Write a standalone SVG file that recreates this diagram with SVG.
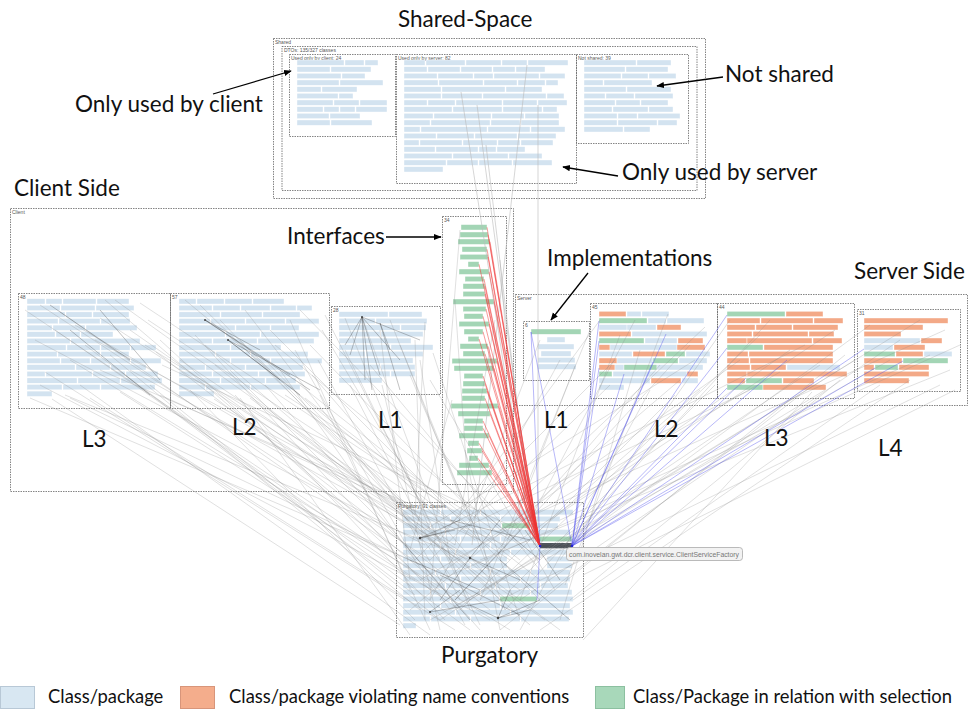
<svg xmlns="http://www.w3.org/2000/svg" width="968" height="711" viewBox="0 0 968 711">
<defs>
<style>
.box{fill:none;stroke:#666;stroke-width:0.8;stroke-dasharray:1.5 1}
.b{fill:#d3e3f0;stroke:#fff;stroke-width:0.4}
.o{fill:#f3a987;stroke:#fff;stroke-width:0.4}
.g{fill:#a3d5b5;stroke:#fff;stroke-width:0.4}
.sel{fill:#4e555c}
.sm{font-family:"Liberation Sans",Arial,sans-serif;font-size:5px;fill:#555}
.big{font-family:Lato,"Noto Sans",sans-serif;font-size:22.5px;fill:#111}
.leg{font-family:Lato,"Noto Sans",sans-serif;font-size:18.4px;fill:#111}
.gl{stroke:#8a8a8a;stroke-width:0.6;stroke-opacity:0.45;fill:none}
.dl{stroke:#333;stroke-width:0.6;stroke-opacity:0.5;fill:none}
.rl{stroke:#e33;stroke-width:0.7;stroke-opacity:0.7;fill:none}
.bl{stroke:#55e;stroke-width:0.7;stroke-opacity:0.6;fill:none}
.ll{stroke:#bbb;stroke-width:0.6;fill:none}
.ann{stroke:#000;stroke-width:1.3;fill:none;marker-end:url(#ah)}
.dot{fill:#444}
</style>
<marker id="ah" viewBox="0 0 10 10" refX="9" refY="5" markerWidth="6" markerHeight="6" orient="auto">
<path d="M0,1 L10,5 L0,9 z" fill="#000"/>
</marker>
</defs>
<rect width="968" height="711" fill="#fff"/>

<!-- Shared space -->
<g id="shared">
<rect class="box" x="273.5" y="38.5" width="432" height="160"/>
<text class="sm" x="275" y="43.5">Shared</text>
<rect class="box" x="282" y="46.5" width="415" height="144"/>
<text class="sm" x="284" y="51.5">DTOs: 135/327 classes</text>
</g>
<g id="shared-client">
<rect class="box" x="289.5" y="54.5" width="106" height="82"/>
<text class="sm" x="291" y="59.5">Used only by client: 24</text>
<rect class="b" x="297" y="60" width="47" height="5.3"/><rect class="b" x="345" y="60" width="19" height="5.3"/><rect class="b" x="365" y="60" width="13" height="5.3"/>
<rect class="b" x="297" y="66.7" width="33" height="5.3"/><rect class="b" x="331" y="66.7" width="40" height="5.3"/>
<rect class="b" x="297" y="73.3" width="44" height="5.3"/><rect class="b" x="342" y="73.3" width="23" height="5.3"/>
<rect class="b" x="297" y="80" width="42" height="5.3"/><rect class="b" x="340" y="80" width="43" height="5.3"/>
<rect class="b" x="297" y="86.7" width="24" height="5.3"/><rect class="b" x="322" y="86.7" width="35" height="5.3"/>
<rect class="b" x="297" y="93.3" width="41" height="5.3"/><rect class="b" x="339" y="93.3" width="14" height="5.3"/>
<rect class="b" x="297" y="100" width="36" height="5.3"/><rect class="b" x="334" y="100" width="25" height="5.3"/><rect class="b" x="360" y="100" width="27" height="5.3"/>
<rect class="b" x="297" y="106.7" width="26" height="5.3"/><rect class="b" x="324" y="106.7" width="15" height="5.3"/><rect class="b" x="340" y="106.7" width="15" height="5.3"/><rect class="b" x="356" y="106.7" width="31" height="5.3"/>
<rect class="b" x="297" y="113.3" width="32" height="5.3"/><rect class="b" x="330" y="113.3" width="30" height="5.3"/>
<rect class="b" x="297" y="120" width="33" height="5.3"/><rect class="b" x="331" y="120" width="41" height="5.3"/>
</g>
<g id="shared-server">
<rect class="box" x="396.5" y="54.5" width="180" height="129"/>
<text class="sm" x="398" y="59.5">Used only by server: 82</text>
<rect class="b" x="404" y="60" width="21" height="5.3"/><rect class="b" x="426" y="60" width="39" height="5.3"/><rect class="b" x="466" y="60" width="35" height="5.3"/><rect class="b" x="502" y="60" width="25" height="5.3"/><rect class="b" x="528" y="60" width="40" height="5.3"/>
<rect class="b" x="404" y="66.7" width="23" height="5.3"/><rect class="b" x="428" y="66.7" width="32" height="5.3"/><rect class="b" x="461" y="66.7" width="31" height="5.3"/><rect class="b" x="493" y="66.7" width="22" height="5.3"/><rect class="b" x="516" y="66.7" width="29" height="5.3"/>
<rect class="b" x="404" y="73.3" width="33" height="5.3"/><rect class="b" x="438" y="73.3" width="35" height="5.3"/><rect class="b" x="474" y="73.3" width="19" height="5.3"/><rect class="b" x="494" y="73.3" width="45" height="5.3"/><rect class="b" x="540" y="73.3" width="25" height="5.3"/>
<rect class="b" x="404" y="80" width="34" height="5.3"/><rect class="b" x="439" y="80" width="44" height="5.3"/><rect class="b" x="484" y="80" width="33" height="5.3"/><rect class="b" x="518" y="80" width="27" height="5.3"/><rect class="b" x="546" y="80" width="12" height="5.3"/>
<rect class="b" x="404" y="86.7" width="37" height="5.3"/><rect class="b" x="442" y="86.7" width="63" height="5.3"/><rect class="b" x="506" y="86.7" width="36" height="5.3"/>
<rect class="b" x="404" y="93.3" width="37" height="5.3"/><rect class="b" x="442" y="93.3" width="40" height="5.3"/><rect class="b" x="483" y="93.3" width="63" height="5.3"/><rect class="b" x="547" y="93.3" width="17" height="5.3"/>
<rect class="b" x="404" y="100" width="23" height="5.3"/><rect class="b" x="428" y="100" width="27" height="5.3"/><rect class="b" x="456" y="100" width="46" height="5.3"/><rect class="b" x="503" y="100" width="34" height="5.3"/><rect class="b" x="538" y="100" width="29" height="5.3"/>
<rect class="b" x="404" y="106.7" width="48" height="5.3"/><rect class="b" x="453" y="106.7" width="49" height="5.3"/><rect class="b" x="503" y="106.7" width="39" height="5.3"/><rect class="b" x="543" y="106.7" width="14" height="5.3"/>
<rect class="b" x="404" y="113.3" width="29" height="5.3"/><rect class="b" x="434" y="113.3" width="57" height="5.3"/><rect class="b" x="492" y="113.3" width="32" height="5.3"/><rect class="b" x="525" y="113.3" width="34" height="5.3"/>
<rect class="b" x="404" y="120" width="26" height="5.3"/><rect class="b" x="431" y="120" width="59" height="5.3"/><rect class="b" x="491" y="120" width="29" height="5.3"/><rect class="b" x="521" y="120" width="38" height="5.3"/>
<rect class="b" x="404" y="126.7" width="16" height="5.3"/><rect class="b" x="421" y="126.7" width="66" height="5.3"/><rect class="b" x="488" y="126.7" width="42" height="5.3"/><rect class="b" x="531" y="126.7" width="34" height="5.3"/>
<rect class="b" x="404" y="133.3" width="32" height="5.3"/><rect class="b" x="437" y="133.3" width="37" height="5.3"/><rect class="b" x="475" y="133.3" width="42" height="5.3"/><rect class="b" x="518" y="133.3" width="38" height="5.3"/>
<rect class="b" x="404" y="140" width="15" height="5.3"/><rect class="b" x="420" y="140" width="42" height="5.3"/><rect class="b" x="463" y="140" width="34" height="5.3"/><rect class="b" x="498" y="140" width="22" height="5.3"/><rect class="b" x="521" y="140" width="32" height="5.3"/>
<rect class="b" x="404" y="146.7" width="31" height="5.3"/><rect class="b" x="436" y="146.7" width="42" height="5.3"/><rect class="b" x="479" y="146.7" width="17" height="5.3"/><rect class="b" x="497" y="146.7" width="28" height="5.3"/>
<rect class="b" x="404" y="153.3" width="48" height="5.3"/><rect class="b" x="453" y="153.3" width="55" height="5.3"/><rect class="b" x="509" y="153.3" width="33" height="5.3"/>
<rect class="b" x="404" y="160" width="42" height="5.3"/><rect class="b" x="447" y="160" width="31" height="5.3"/><rect class="b" x="479" y="160" width="33" height="5.3"/><rect class="b" x="513" y="160" width="39" height="5.3"/>
<rect class="b" x="404" y="166.7" width="39" height="5.3"/>
</g>
<g id="not-shared">
<rect class="box" x="576.5" y="54.5" width="112" height="89"/>
<text class="sm" x="578" y="59.5">Not shared: 39</text>
<rect class="b" x="584" y="60" width="52" height="5.3"/><rect class="b" x="637" y="60" width="34" height="5.3"/>
<rect class="b" x="584" y="66.7" width="41" height="5.3"/><rect class="b" x="626" y="66.7" width="42" height="5.3"/>
<rect class="b" x="584" y="73.3" width="37" height="5.3"/><rect class="b" x="622" y="73.3" width="26" height="5.3"/><rect class="b" x="649" y="73.3" width="27" height="5.3"/>
<rect class="b" x="584" y="80" width="19" height="5.3"/><rect class="b" x="604" y="80" width="48" height="5.3"/>
<rect class="b" x="584" y="86.7" width="42" height="5.3"/><rect class="b" x="627" y="86.7" width="44" height="5.3"/>
<rect class="b" x="584" y="93.3" width="21" height="5.3"/><rect class="b" x="606" y="93.3" width="28" height="5.3"/><rect class="b" x="635" y="93.3" width="38" height="5.3"/>
<rect class="b" x="584" y="100" width="31" height="5.3"/><rect class="b" x="616" y="100" width="24" height="5.3"/><rect class="b" x="641" y="100" width="27" height="5.3"/>
<rect class="b" x="584" y="106.7" width="28" height="5.3"/><rect class="b" x="613" y="106.7" width="35" height="5.3"/><rect class="b" x="649" y="106.7" width="24" height="5.3"/>
<rect class="b" x="584" y="113.3" width="33" height="5.3"/><rect class="b" x="618" y="113.3" width="19" height="5.3"/><rect class="b" x="638" y="113.3" width="42" height="5.3"/>
<rect class="b" x="584" y="120" width="33" height="5.3"/><rect class="b" x="618" y="120" width="39" height="5.3"/><rect class="b" x="658" y="120" width="19" height="5.3"/>
<rect class="b" x="584" y="126.7" width="39" height="5.3"/><rect class="b" x="624" y="126.7" width="26" height="5.3"/>
</g>

<!-- Client -->
<g id="client">
<rect class="box" x="10.5" y="208.5" width="503" height="283"/>
<text class="sm" x="12" y="214">Client</text>
</g>
<g id="client-l3">
<rect class="box" x="18.5" y="293.5" width="152" height="115"/>
<text class="sm" x="20" y="299">48</text>
<rect class="b" x="27" y="298.7" width="18" height="5.3"/><rect class="b" x="46" y="298.7" width="16" height="5.3"/><rect class="b" x="63" y="298.7" width="33" height="5.3"/><rect class="b" x="97" y="298.7" width="32" height="5.3"/>
<rect class="b" x="27" y="305.3" width="33" height="5.3"/><rect class="b" x="61" y="305.3" width="34" height="5.3"/><rect class="b" x="96" y="305.3" width="38" height="5.3"/>
<rect class="b" x="27" y="311.9" width="38" height="5.3"/><rect class="b" x="66" y="311.9" width="26" height="5.3"/><rect class="b" x="93" y="311.9" width="36" height="5.3"/>
<rect class="b" x="27" y="318.5" width="31" height="5.3"/><rect class="b" x="59" y="318.5" width="41" height="5.3"/><rect class="b" x="101" y="318.5" width="29" height="5.3"/>
<rect class="b" x="27" y="325.1" width="25" height="5.3"/><rect class="b" x="53" y="325.1" width="32" height="5.3"/><rect class="b" x="86" y="325.1" width="51" height="5.3"/>
<rect class="b" x="27" y="331.7" width="28" height="5.3"/><rect class="b" x="56" y="331.7" width="24" height="5.3"/><rect class="b" x="81" y="331.7" width="32" height="5.3"/>
<rect class="b" x="27" y="338.3" width="43" height="5.3"/><rect class="b" x="71" y="338.3" width="69" height="5.3"/>
<rect class="b" x="27" y="344.9" width="39" height="5.3"/><rect class="b" x="67" y="344.9" width="33" height="5.3"/><rect class="b" x="101" y="344.9" width="29" height="5.3"/><rect class="b" x="131" y="344.9" width="25" height="5.3"/>
<rect class="b" x="27" y="351.5" width="30" height="5.3"/><rect class="b" x="58" y="351.5" width="42" height="5.3"/><rect class="b" x="101" y="351.5" width="28" height="5.3"/>
<rect class="b" x="27" y="358.1" width="33" height="5.3"/><rect class="b" x="61" y="358.1" width="29" height="5.3"/><rect class="b" x="91" y="358.1" width="39" height="5.3"/><rect class="b" x="131" y="358.1" width="30" height="5.3"/>
<rect class="b" x="27" y="364.7" width="48" height="5.3"/><rect class="b" x="76" y="364.7" width="34" height="5.3"/><rect class="b" x="111" y="364.7" width="35" height="5.3"/>
<rect class="b" x="27" y="371.3" width="18" height="5.3"/><rect class="b" x="46" y="371.3" width="46" height="5.3"/><rect class="b" x="93" y="371.3" width="32" height="5.3"/><rect class="b" x="126" y="371.3" width="32" height="5.3"/>
<rect class="b" x="27" y="377.9" width="50" height="5.3"/><rect class="b" x="78" y="377.9" width="42" height="5.3"/><rect class="b" x="121" y="377.9" width="41" height="5.3"/>
<rect class="b" x="27" y="384.5" width="35" height="5.3"/><rect class="b" x="63" y="384.5" width="37" height="5.3"/><rect class="b" x="101" y="384.5" width="54" height="5.3"/>
<rect class="b" x="27" y="391.1" width="25" height="5.3"/>
</g>
<g id="client-l2">
<rect class="box" x="170.5" y="293.5" width="159" height="115"/>
<text class="sm" x="172" y="299">57</text>
<rect class="b" x="179" y="298.7" width="17" height="5.3"/><rect class="b" x="197" y="298.7" width="27" height="5.3"/><rect class="b" x="225" y="298.7" width="27" height="5.3"/><rect class="b" x="253" y="298.7" width="31" height="5.3"/>
<rect class="b" x="179" y="305.3" width="33" height="5.3"/><rect class="b" x="213" y="305.3" width="27" height="5.3"/><rect class="b" x="241" y="305.3" width="29" height="5.3"/><rect class="b" x="271" y="305.3" width="25" height="5.3"/><rect class="b" x="297" y="305.3" width="15" height="5.3"/>
<rect class="b" x="179" y="311.9" width="41" height="5.3"/><rect class="b" x="221" y="311.9" width="41" height="5.3"/><rect class="b" x="263" y="311.9" width="37" height="5.3"/>
<rect class="b" x="179" y="318.5" width="31" height="5.3"/><rect class="b" x="211" y="318.5" width="34" height="5.3"/><rect class="b" x="246" y="318.5" width="39" height="5.3"/><rect class="b" x="286" y="318.5" width="33" height="5.3"/>
<rect class="b" x="179" y="325.1" width="56" height="5.3"/><rect class="b" x="236" y="325.1" width="34" height="5.3"/><rect class="b" x="271" y="325.1" width="28" height="5.3"/>
<rect class="b" x="179" y="331.7" width="46" height="5.3"/><rect class="b" x="226" y="331.7" width="34" height="5.3"/><rect class="b" x="261" y="331.7" width="58" height="5.3"/>
<rect class="b" x="179" y="338.3" width="33" height="5.3"/><rect class="b" x="213" y="338.3" width="44" height="5.3"/><rect class="b" x="258" y="338.3" width="56" height="5.3"/>
<rect class="b" x="179" y="344.9" width="51" height="5.3"/><rect class="b" x="231" y="344.9" width="50" height="5.3"/>
<rect class="b" x="179" y="351.5" width="36" height="5.3"/><rect class="b" x="216" y="351.5" width="34" height="5.3"/><rect class="b" x="251" y="351.5" width="57" height="5.3"/>
<rect class="b" x="179" y="358.1" width="51" height="5.3"/><rect class="b" x="231" y="358.1" width="39" height="5.3"/><rect class="b" x="271" y="358.1" width="51" height="5.3"/>
<rect class="b" x="179" y="364.7" width="26" height="5.3"/><rect class="b" x="206" y="364.7" width="39" height="5.3"/><rect class="b" x="246" y="364.7" width="57" height="5.3"/>
<rect class="b" x="179" y="371.3" width="33" height="5.3"/><rect class="b" x="213" y="371.3" width="45" height="5.3"/><rect class="b" x="259" y="371.3" width="46" height="5.3"/>
<rect class="b" x="179" y="377.9" width="41" height="5.3"/><rect class="b" x="221" y="377.9" width="44" height="5.3"/><rect class="b" x="266" y="377.9" width="30" height="5.3"/>
<rect class="b" x="179" y="384.5" width="26" height="5.3"/><rect class="b" x="206" y="384.5" width="44" height="5.3"/><rect class="b" x="251" y="384.5" width="49" height="5.3"/>
<rect class="b" x="179" y="391.1" width="35" height="5.3"/>
</g>
<g id="client-l1">
<rect class="box" x="331.5" y="306.5" width="109" height="88"/>
<text class="sm" x="333" y="312">28</text>
<rect class="b" x="339" y="311.7" width="49" height="5.3"/><rect class="b" x="389" y="311.7" width="33" height="5.3"/>
<rect class="b" x="339" y="318.3" width="36" height="5.3"/><rect class="b" x="376" y="318.3" width="51" height="5.3"/>
<rect class="b" x="339" y="324.9" width="61" height="5.3"/><rect class="b" x="401" y="324.9" width="25" height="5.3"/>
<rect class="b" x="339" y="331.5" width="41" height="5.3"/><rect class="b" x="381" y="331.5" width="42" height="5.3"/>
<rect class="b" x="339" y="338.1" width="72" height="5.3"/>
<rect class="b" x="339" y="344.7" width="51" height="5.3"/><rect class="b" x="391" y="344.7" width="42" height="5.3"/>
<rect class="b" x="339" y="351.3" width="26" height="5.3"/><rect class="b" x="366" y="351.3" width="57" height="5.3"/>
<rect class="b" x="339" y="357.9" width="74" height="5.3"/>
<rect class="b" x="339" y="364.5" width="41" height="5.3"/><rect class="b" x="381" y="364.5" width="34" height="5.3"/>
<rect class="b" x="339" y="371.1" width="51" height="5.3"/><rect class="b" x="391" y="371.1" width="24" height="5.3"/>
<rect class="b" x="339" y="377.7" width="43" height="5.3"/>
</g>
<g id="interfaces">
<rect class="box" x="442.5" y="216.5" width="64" height="268"/>
<text class="sm" x="444" y="222">34</text>
<rect class="g" x="461" y="224.6" width="26" height="5.4"/>
<rect class="g" x="460" y="232" width="28" height="5.4"/>
<rect class="g" x="458" y="239" width="32" height="5.4"/>
<rect class="g" x="462" y="246.6" width="25" height="5.4"/>
<rect class="g" x="460" y="254.3" width="28" height="5.4"/>
<rect class="g" x="468" y="261.6" width="11" height="5.4"/>
<rect class="g" x="459" y="269" width="30" height="5.4"/>
<rect class="g" x="465" y="276.3" width="19" height="5.4"/>
<rect class="g" x="463" y="283.6" width="22" height="5.4"/>
<rect class="g" x="463" y="291.3" width="22" height="5.4"/>
<rect class="g" x="453" y="299" width="41" height="5.4"/>
<rect class="g" x="463" y="306.3" width="23" height="5.4"/>
<rect class="g" x="464" y="313.6" width="19" height="5.4"/>
<rect class="g" x="459" y="321.3" width="30" height="5.4"/>
<rect class="g" x="464" y="329" width="19" height="5.4"/>
<rect class="g" x="468" y="336.3" width="11" height="5.4"/>
<rect class="g" x="460" y="343.6" width="28" height="5.4"/>
<rect class="g" x="463" y="351" width="22" height="5.4"/>
<rect class="g" x="452" y="358.3" width="45" height="5.4"/>
<rect class="g" x="454" y="365.6" width="40" height="5.4"/>
<rect class="g" x="464" y="373.3" width="19" height="5.4"/>
<rect class="g" x="463" y="381" width="22" height="5.4"/>
<rect class="g" x="462" y="388.3" width="25" height="5.4"/>
<rect class="g" x="462" y="395.6" width="23" height="5.4"/>
<rect class="g" x="451" y="403.3" width="47" height="5.4"/>
<rect class="g" x="458" y="411" width="32" height="5.4"/>
<rect class="g" x="464" y="418.3" width="19" height="5.4"/>
<rect class="g" x="464" y="425.6" width="19" height="5.4"/>
<rect class="g" x="459" y="433" width="30" height="5.4"/>
<rect class="g" x="468" y="440.6" width="11" height="5.4"/>
<rect class="g" x="467" y="448" width="15" height="5.4"/>
<rect class="g" x="469" y="455.6" width="9" height="5.4"/>
<rect class="g" x="459" y="462.6" width="30" height="5.4"/>
<rect class="g" x="457" y="470" width="35" height="5.4"/>
</g>

<!-- Server -->
<g id="server">
<rect class="box" x="515.5" y="294.5" width="452" height="111"/>
<text class="sm" x="517" y="300">Server</text>
</g>
<g id="server-l1">
<rect class="box" x="523.5" y="321.5" width="66" height="59"/>
<text class="sm" x="525" y="327">6</text>
<rect class="g" x="531" y="329" width="50" height="5.3"/>
<rect class="b" x="547" y="337" width="18" height="5.3"/>
<rect class="b" x="538" y="344" width="36" height="5.3"/>
<rect class="b" x="541" y="351" width="30" height="5.3"/>
<rect class="b" x="538" y="357.5" width="37" height="5.3"/>
<rect class="b" x="538" y="364" width="38" height="5.3"/>
</g>
<g id="server-l2">
<rect class="box" x="590.5" y="303.5" width="127" height="95"/>
<text class="sm" x="592" y="309">45</text>
<rect class="o" x="599" y="311.3" width="27" height="5.3"/><rect class="b" x="627" y="311.3" width="14" height="5.3"/><rect class="b" x="642" y="311.3" width="27" height="5.3"/>
<rect class="g" x="599" y="318" width="48" height="5.3"/><rect class="b" x="648" y="318" width="18" height="5.3"/><rect class="b" x="667" y="318" width="37" height="5.3"/>
<rect class="b" x="599" y="324.7" width="28" height="5.3"/><rect class="b" x="627" y="324.7" width="29" height="5.3"/><rect class="o" x="657" y="324.7" width="24" height="5.3"/>
<rect class="o" x="599" y="331.3" width="32" height="5.3"/><rect class="b" x="632" y="331.3" width="75" height="5.3"/>
<rect class="g" x="599" y="338" width="45" height="5.3"/><rect class="b" x="645" y="338" width="32" height="5.3"/><rect class="o" x="678" y="338" width="25" height="5.3"/>
<rect class="o" x="599" y="344.7" width="11" height="5.3"/><rect class="b" x="610" y="344.7" width="67" height="5.3"/><rect class="o" x="677" y="344.7" width="28" height="5.3"/>
<rect class="b" x="599" y="351.3" width="33" height="5.3"/><rect class="o" x="633" y="351.3" width="32" height="5.3"/><rect class="g" x="666" y="351.3" width="19" height="5.3"/><rect class="b" x="686" y="351.3" width="24" height="5.3"/>
<rect class="o" x="599" y="358" width="18" height="5.3"/><rect class="b" x="617" y="358" width="36" height="5.3"/><rect class="g" x="653" y="358" width="25" height="5.3"/><rect class="b" x="679" y="358" width="28" height="5.3"/>
<rect class="o" x="599" y="364.7" width="16" height="5.3"/><rect class="b" x="615" y="364.7" width="9" height="5.3"/><rect class="g" x="624" y="364.7" width="33" height="5.3"/><rect class="b" x="657" y="364.7" width="46" height="5.3"/>
<rect class="g" x="599" y="371.3" width="13" height="5.3"/><rect class="b" x="613" y="371.3" width="74" height="5.3"/><rect class="o" x="687" y="371.3" width="11" height="5.3"/>
<rect class="b" x="599" y="378" width="51" height="5.3"/><rect class="o" x="651" y="378" width="30" height="5.3"/><rect class="b" x="682" y="378" width="16" height="5.3"/>
<rect class="b" x="599" y="384.7" width="25" height="5.3"/>
</g>
<g id="server-l3">
<rect class="box" x="717.5" y="303.5" width="137" height="95"/>
<text class="sm" x="719" y="309">44</text>
<rect class="g" x="727" y="311.3" width="58" height="5.3"/><rect class="o" x="786" y="311.3" width="37" height="5.3"/>
<rect class="o" x="727" y="318" width="33" height="5.3"/><rect class="o" x="761" y="318" width="52" height="5.3"/><rect class="o" x="814" y="318" width="29" height="5.3"/>
<rect class="o" x="727" y="324.7" width="28" height="5.3"/><rect class="o" x="756" y="324.7" width="36" height="5.3"/><rect class="o" x="793" y="324.7" width="45" height="5.3"/>
<rect class="o" x="727" y="331.3" width="25" height="5.3"/><rect class="o" x="753" y="331.3" width="55" height="5.3"/><rect class="o" x="809" y="331.3" width="25" height="5.3"/>
<rect class="o" x="727" y="338" width="20" height="5.3"/><rect class="o" x="747" y="338" width="65" height="5.3"/><rect class="o" x="813" y="338" width="29" height="5.3"/>
<rect class="g" x="727" y="344.7" width="36" height="5.3"/><rect class="o" x="764" y="344.7" width="69" height="5.3"/>
<rect class="o" x="727" y="351.3" width="21" height="5.3"/><rect class="o" x="749" y="351.3" width="84" height="5.3"/>
<rect class="o" x="727" y="358" width="22" height="5.3"/><rect class="o" x="750" y="358" width="83" height="5.3"/>
<rect class="o" x="727" y="364.7" width="23" height="5.3"/><rect class="o" x="751" y="364.7" width="35" height="5.3"/><rect class="b" x="787" y="364.7" width="53" height="5.3"/>
<rect class="o" x="727" y="371.3" width="20" height="5.3"/><rect class="o" x="747" y="371.3" width="100" height="5.3"/>
<rect class="o" x="727" y="378" width="18" height="5.3"/><rect class="g" x="746" y="378" width="36" height="5.3"/><rect class="o" x="783" y="378" width="31" height="5.3"/>
<rect class="g" x="727" y="384.7" width="36" height="5.3"/><rect class="o" x="763" y="384.7" width="63" height="5.3"/>
</g>
<g id="server-l4">
<rect class="box" x="857.5" y="309.5" width="103" height="82"/>
<text class="sm" x="859" y="315">31</text>
<rect class="o" x="864" y="318" width="84" height="5.3"/>
<rect class="o" x="864" y="324.7" width="59" height="5.3"/>
<rect class="o" x="864" y="331.3" width="37" height="5.3"/>
<rect class="b" x="864" y="338" width="56" height="5.3"/><rect class="o" x="921" y="338" width="21" height="5.3"/>
<rect class="b" x="864" y="344.7" width="29" height="5.3"/><rect class="o" x="894" y="344.7" width="31" height="5.3"/>
<rect class="g" x="864" y="351.3" width="31" height="5.3"/><rect class="o" x="896" y="351.3" width="27" height="5.3"/><rect class="b" x="924" y="351.3" width="28" height="5.3"/>
<rect class="o" x="864" y="358" width="38" height="5.3"/><rect class="g" x="903" y="358" width="45" height="5.3"/>
<rect class="o" x="864" y="364.7" width="10" height="5.3"/><rect class="g" x="875" y="364.7" width="23" height="5.3"/><rect class="o" x="899" y="364.7" width="30" height="5.3"/>
<rect class="o" x="864" y="371.3" width="65" height="5.3"/>
<rect class="o" x="864" y="378" width="45" height="5.3"/>
</g>

<!-- Purgatory -->
<g id="purgatory">
<rect class="box" x="396.5" y="502.5" width="187" height="135"/>
<text class="sm" x="398" y="508">Purgatory: 91 classes</text>
<rect class="b" x="403" y="509.6" width="37" height="5.3"/><rect class="b" x="441" y="509.6" width="39" height="5.3"/><rect class="b" x="481" y="509.6" width="49" height="5.3"/><rect class="b" x="531" y="509.6" width="42" height="5.3"/>
<rect class="b" x="403" y="516.3" width="47" height="5.3"/><rect class="b" x="451" y="516.3" width="49" height="5.3"/><rect class="b" x="501" y="516.3" width="59" height="5.3"/>
<rect class="b" x="403" y="523" width="27" height="5.3"/><rect class="b" x="431" y="523" width="70" height="5.3"/><rect class="g" x="502" y="523" width="28" height="5.3"/><rect class="b" x="531" y="523" width="27" height="5.3"/>
<rect class="b" x="403" y="529.6" width="42" height="5.3"/><rect class="b" x="446" y="529.6" width="44" height="5.3"/><rect class="b" x="491" y="529.6" width="44" height="5.3"/><rect class="b" x="536" y="529.6" width="34" height="5.3"/>
<rect class="b" x="403" y="536.3" width="57" height="5.3"/><rect class="b" x="461" y="536.3" width="39" height="5.3"/><rect class="b" x="501" y="536.3" width="35" height="5.3"/><rect class="g" x="537" y="536.3" width="35" height="5.3"/>
<rect class="b" x="403" y="543" width="37" height="5.3"/><rect class="b" x="441" y="543" width="49" height="5.3"/><rect class="b" x="491" y="543" width="48" height="5.3"/><rect class="sel" x="540" y="543" width="32" height="5.3"/>
<rect class="b" x="403" y="549.6" width="52" height="5.3"/><rect class="b" x="456" y="549.6" width="54" height="5.3"/><rect class="b" x="511" y="549.6" width="56" height="5.3"/>
<rect class="b" x="403" y="556.3" width="37" height="5.3"/><rect class="b" x="441" y="556.3" width="66" height="5.3"/><rect class="b" x="547" y="556.3" width="26" height="5.3"/>
<rect class="b" x="403" y="563" width="67" height="5.3"/><rect class="b" x="471" y="563" width="36" height="5.3"/><rect class="b" x="547" y="563" width="25" height="5.3"/>
<rect class="b" x="403" y="569.6" width="32" height="5.3"/><rect class="b" x="436" y="569.6" width="54" height="5.3"/><rect class="b" x="491" y="569.6" width="39" height="5.3"/><rect class="b" x="531" y="569.6" width="39" height="5.3"/>
<rect class="b" x="403" y="576.3" width="57" height="5.3"/><rect class="b" x="461" y="576.3" width="59" height="5.3"/><rect class="b" x="521" y="576.3" width="49" height="5.3"/>
<rect class="b" x="403" y="583" width="42" height="5.3"/><rect class="b" x="446" y="583" width="49" height="5.3"/><rect class="b" x="496" y="583" width="44" height="5.3"/><rect class="b" x="541" y="583" width="27" height="5.3"/>
<rect class="b" x="403" y="589.6" width="27" height="5.3"/><rect class="b" x="431" y="589.6" width="49" height="5.3"/><rect class="b" x="481" y="589.6" width="49" height="5.3"/><rect class="b" x="531" y="589.6" width="41" height="5.3"/>
<rect class="b" x="403" y="596.3" width="47" height="5.3"/><rect class="b" x="451" y="596.3" width="48" height="5.3"/><rect class="g" x="500" y="596.3" width="37" height="5.3"/><rect class="b" x="538" y="596.3" width="35" height="5.3"/>
<rect class="b" x="403" y="603" width="37" height="5.3"/><rect class="b" x="441" y="603" width="59" height="5.3"/><rect class="b" x="501" y="603" width="69" height="5.3"/>
<rect class="b" x="403" y="609.6" width="52" height="5.3"/><rect class="b" x="456" y="609.6" width="54" height="5.3"/><rect class="b" x="511" y="609.6" width="62" height="5.3"/>
<rect class="b" x="403" y="616.3" width="27" height="5.3"/><rect class="b" x="431" y="616.3" width="39" height="5.3"/><rect class="b" x="471" y="616.3" width="49" height="5.3"/><rect class="b" x="521" y="616.3" width="48" height="5.3"/>
<rect class="b" x="403" y="623" width="13" height="5.3"/>
</g>

<!-- Connectors -->
<g id="connectors">
<path class="ll" d="M461 92 L531 540 M477 105 L536 545 M486 145 L534 545 M527 65 L472 545 M538 105 L538 545"/>
<path class="gl" d="M40 305 L430 560 M60 312 L470 600 M75 325 L410 520 M95 340 L450 530 M110 355 L420 610 M130 370 L500 575 M150 385 L440 620 M160 395 L480 540 M52 399 L400 625 M100 318 L520 590 M140 303 L460 515 M120 392 L415 580 M80 385 L430 635 M156 352 L490 610 M45 372 L405 600 M30 398 L410 560 M130 330 L545 620 M162 365 L520 530 M90 398 L455 630 M70 360 L510 630 M35 340 L425 545 M105 300 L445 590 M145 345 L405 505 M65 395 L470 560 M25 310 L440 590 M55 330 L460 610 M85 345 L415 595 M115 300 L430 525 M125 375 L470 630 M148 320 L510 560 M160 340 L445 600 M40 385 L490 620 M70 398 L420 565 M100 370 L505 545"/>
<path class="gl" d="M200 305 L440 540 M220 320 L470 580 M240 340 L420 520 M260 355 L500 600 M280 370 L450 610 M300 385 L520 560 M320 395 L430 630 M310 345 L480 520 M290 320 L410 590 M250 398 L560 630 M214 399 L460 560 M270 330 L540 600 M230 370 L405 545 M300 310 L500 515 M318 360 L465 625 M190 390 L415 620 M205 345 L530 625 M285 395 L510 540 M322 330 L425 505 M312 375 L490 580 M240 398 L410 635 M180 360 L455 545 M185 300 L475 540 M195 335 L430 590 M215 365 L520 610 M245 310 L450 575 M265 385 L480 630 M295 350 L415 560 M305 398 L540 580 M325 315 L470 600 M275 345 L525 550 M235 395 L445 620"/>
<path class="gl" d="M345 318 L430 530 M362 317 L470 610 M380 330 L410 580 M400 345 L500 590 M420 360 L450 560 M433 353 L520 620 M382 385 L440 630 M410 375 L480 540 M370 365 L540 570 M425 322 L415 515 M460 230 L430 600 M455 300 L470 520 M452 400 L410 550 M465 450 L500 630 M500 260 L520 520 M495 320 L455 545 M350 385 L460 600 M390 320 L505 610 M415 340 L425 620 M430 380 L555 590 M345 350 L480 625"/>
<path class="gl" d="M540 340 L470 520 M560 360 L430 600 M575 366 L500 560 M600 320 L440 540 M620 335 L520 600 M640 350 L560 620 M660 365 L480 570 M680 380 L410 610 M700 390 L540 530 M705 327 L500 520 M690 345 L455 600 M650 390 L520 630 M610 385 L430 560 M730 320 L560 560 M760 335 L480 600 M790 350 L520 540 M820 365 L440 620 M840 380 L570 600 M800 395 L500 630 M750 390 L460 530 M835 330 L550 520 M780 372 L420 580 M845 355 L530 610 M870 325 L570 545 M900 340 L520 600 M930 355 L560 520 M950 370 L480 560 M910 380 L540 630 M945 330 L500 530 M880 385 L573 600 M920 320 L450 610 M668 314 L565 585 M812 392 L583 640 M955 390 L583 575 M590 330 L480 600 M615 360 L415 560 M635 320 L530 520 M675 395 L460 610 M695 360 L425 530 M715 385 L510 590 M740 360 L445 570 M770 320 L505 610 M805 345 L420 540 M825 390 L545 560 M855 360 L470 600 M890 360 L430 620 M940 385 L500 600 M960 345 L440 580"/>
<path class="dl" d="M362 317 L350 355 M362 317 L365 380 M362 317 L380 375 M362 317 L400 360 M362 317 L420 340 M362 317 L345 345 M362 317 L372 390 M380 323 L400 390 M380 323 L390 350 M205 320 L260 350 M205 320 L290 375 M205 320 L310 390 M228 340 L300 395 M228 340 L280 380 M228 340 L320 390 M50 305 L130 360 M100 310 L160 380 M70 330 L150 395"/>
<path class="dl" d="M420 538 L460 520 M420 538 L470 525 M420 538 L455 530 M470 558 L500 520 M470 558 L440 600 M470 558 L520 580 M498 618 L540 600 M498 618 L510 590 M498 618 L470 605 M498 618 L530 610 M430 612 L460 590 M430 612 L500 600 M450 520 L530 540 M410 560 L480 590 M440 575 L520 615 M525 530 L560 580 M405 545 L470 620 M480 510 L540 560 M455 600 L530 520 M500 560 L570 620 M540 546 L572 546"/>
<path class="rl" d="M487 227.3 L540 546 M488 234.7 L540 546 M490 241.7 L540 546 M487 249.3 L540 546 M488 257 L540 546 M479 264.3 L540 546 M489 271.7 L540 546 M484 279 L540 546 M485 286.3 L540 546 M485 294 L540 546 M494 301.7 L540 546 M486 309 L540 546 M483 316.3 L540 546 M489 324 L540 546 M483 331.7 L540 546 M479 339 L540 546 M488 346.3 L540 546 M485 353.7 L540 546 M497 361 L540 546 M494 368.3 L540 546 M483 376 L540 546 M485 383.7 L540 546 M487 391 L540 546 M485 398.3 L540 546 M498 406 L540 546 M490 413.7 L540 546 M483 421 L540 546 M483 428.3 L540 546 M489 435.7 L540 546 M479 443.3 L540 546 M482 450.7 L540 546 M478 458.3 L540 546 M489 465.3 L540 546 M492 472.7 L540 546"/>
<path class="bl" d="M572 546 L531 332 M572 546 L599 321 M572 546 L599 341 M572 546 L599 368 M572 546 L624 374 M572 546 L653 362 M572 546 L666 334 M572 546 L727 315 M572 546 L727 348 M572 546 L746 378 M572 546 L727 388 M572 546 L787 360 M572 546 L864 349 M572 546 L875 368 M572 546 L903 361 M531 332 L540 546 M540 546 L537 600"/>
<circle class="dot" cx="362" cy="317" r="1"/><circle class="dot" cx="205" cy="320" r="1"/><circle class="dot" cx="228" cy="340" r="1"/>
<circle class="dot" cx="420" cy="538" r="1.2"/><circle class="dot" cx="470" cy="558" r="1.2"/><circle class="dot" cx="498" cy="618" r="1.2"/><circle class="dot" cx="430" cy="612" r="1"/>
<circle cx="540" cy="546" r="1.3" fill="#22c"/><circle cx="572" cy="546" r="1.3" fill="#22c"/>
</g>

<!-- Tooltip -->
<g id="tooltip">
<rect x="566.5" y="547.5" width="176" height="13" rx="3" fill="#f2f2f2" stroke="#aaa" stroke-width="0.8"/>
<text x="569" y="556.6" font-family="'Liberation Sans',Arial,sans-serif" font-size="6.8" fill="#777" textLength="170" lengthAdjust="spacingAndGlyphs">com.inovelan.gwt.dcr.client.service.ClientServiceFactory</text>
</g>

<!-- Annotations -->
<g id="annotations">
<text class="big" x="398" y="27">Shared-Space</text>
<text class="big" x="75" y="112">Only used by client</text>
<path class="ann" d="M213 94 L291 71"/>
<text class="big" x="725" y="82">Not shared</text>
<path class="ann" d="M723 77 L657 86"/>
<text class="big" x="622" y="180">Only used by server</text>
<path class="ann" d="M618 176 L563 167"/>
<text class="big" x="14" y="196">Client Side</text>
<text class="big" x="287" y="244">Interfaces</text>
<path class="ann" d="M386 237 L441 237"/>
<text class="big" x="547" y="266">Implementations</text>
<path class="ann" d="M588 273 L551 320"/>
<text class="big" x="854" y="279">Server Side</text>
<text class="big" x="82" y="447">L3</text>
<text class="big" x="232" y="435">L2</text>
<text class="big" x="378" y="428">L1</text>
<text class="big" x="544" y="428">L1</text>
<text class="big" x="654" y="437">L2</text>
<text class="big" x="764" y="446">L3</text>
<text class="big" x="878" y="456">L4</text>
<text class="big" x="441" y="663">Purgatory</text>
</g>

<!-- Legend -->
<g id="legend">
<rect x="0.5" y="686.5" width="34" height="22" fill="#d8e7f2" stroke="#b8c8d6"/>
<text class="leg" x="48" y="703">Class/package</text>
<rect x="180.5" y="686.5" width="34" height="22" fill="#f4ad8c" stroke="#d8957a"/>
<text class="leg" x="229" y="703">Class/package violating name conventions</text>
<rect x="595.5" y="686.5" width="29" height="22" fill="#a8d8ba" stroke="#8cc0a0"/>
<text class="leg" x="633" y="703">Class/Package in relation with selection</text>
</g>
</svg>
